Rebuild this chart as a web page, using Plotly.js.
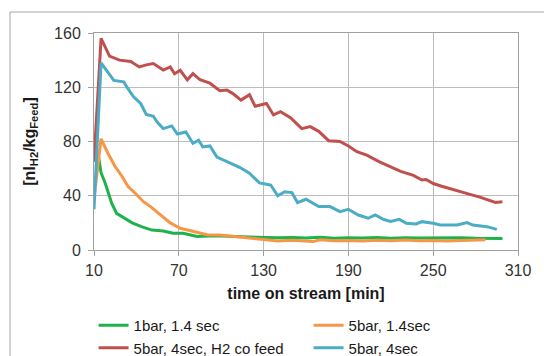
<!DOCTYPE html>
<html>
<head>
<meta charset="utf-8">
<script src="https://cdn.plot.ly/plotly-3.0.1.min.js"></script>
<style>
  html, body { margin: 0; padding: 0; background: #fff; }
  #chart { width: 544px; height: 356px; }
</style>
</head>
<body>
<div id="chart"></div>
<script>
// ---- data ----
const seriesNames = ["1bar, 1.4 sec", "5bar, 1.4sec", "5bar, 4sec, H2 co feed", "5bar, 4sec"];

const tGreen = [13, 15, 18, 20, 22.5, 26, 32, 37, 44, 51, 59, 66, 73, 83, 95, 110, 125, 140, 150, 160, 170, 180, 190, 200, 210, 220, 230, 240, 250, 260, 270, 280, 290, 299];
const vGreen = [70, 57, 49, 42, 34.5, 27, 23.5, 20, 17, 14.7, 14, 12.3, 12.3, 10, 10.5, 9.8, 9.4, 9, 9.2, 8.8, 9.4, 8.6, 9, 8.8, 9.2, 8.7, 9.1, 8.8, 9, 8.7, 9, 8.6, 8.8, 8.5];

const tOrange = [10, 15, 20, 25, 30, 34, 39, 45, 50, 57, 64, 71, 80, 90, 99, 111, 120, 130, 140, 150, 160, 165, 170, 180, 190, 200, 210, 220, 230, 240, 250, 260, 270, 280, 287];
const vOrange = [38, 82, 71, 61.5, 54, 47, 42, 35.6, 32, 26, 20, 16, 13.5, 11.2, 11, 9.8, 8.6, 7.4, 6.6, 7.2, 6.8, 6.2, 7.5, 6.8, 7, 6.6, 7.2, 6.8, 7.4, 6.8, 7, 6.6, 7, 7.2, 7.5];

const tRed = [10, 15, 21, 28, 36, 42, 47, 52, 59, 64, 67, 71, 76, 80, 85, 92, 99, 104, 108, 114, 120, 124, 132, 137, 142, 149, 157, 163, 169, 176, 184, 190, 196, 203, 212, 220, 227, 236, 242, 245, 250, 256, 267, 276, 283, 294, 299];
const vRed = [65, 156, 143, 140, 139, 135, 136.5, 137.5, 132.7, 135, 130, 132.5, 125.5, 130, 125.5, 123, 117.5, 118, 115.5, 110.5, 114.5, 106, 108, 99.6, 102, 97.5, 89.5, 91, 87.5, 80.6, 80, 76.7, 72.5, 70, 65, 61, 58, 55, 51.6, 52, 49, 47, 44, 41, 39, 35, 35.5];

const tBlue = [10, 15, 24, 31, 34, 38, 43, 47, 52, 55, 59, 65, 69, 75, 80, 84, 87, 92, 97, 104, 113, 120, 127, 132, 135, 140, 145, 150, 154, 160, 169, 177, 184, 190, 197, 204, 209, 215, 220, 226, 231, 238, 242, 250, 255, 267, 274, 278, 288, 295];
const vBlue = [30, 138, 125, 124, 119, 113, 108, 100, 98.5, 94, 89.5, 91.5, 85.5, 87, 78.7, 81, 76, 76.7, 68.5, 65, 61, 56.6, 49.5, 48.5, 47.9, 40, 43, 42.3, 35, 37.4, 32, 32, 28.3, 30, 25.8, 23.4, 25.8, 22.5, 21, 22.6, 19.7, 19.2, 20.9, 19.7, 18.4, 18.4, 20.2, 18.4, 17.2, 15.2];

const xTicks = [10, 70, 130, 190, 250, 310];
const yTicks = [0, 40, 80, 120, 160];

const colors = ["#1db34a", "#f79646", "#c0504d", "#4bacc6"];

const tData = [tGreen, tOrange, tRed, tBlue];
const vData = [vGreen, vOrange, vRed, vBlue];

const traces = seriesNames.map((name, i) => ({
  type: "scatter",
  mode: "lines",
  name: name,
  x: tData[i],
  y: vData[i],
  line: { color: colors[i], width: 3 },
  hoverinfo: "skip"
}));

const fam = "Liberation Sans, Arial, sans-serif";
const tickFont = { family: fam, size: 16, color: "#333" };
const titleFont = { family: fam, size: 16, color: "#1a1a1a" };

const layout = {
  width: 544,
  height: 356,
  margin: { l: 94, r: 26, t: 33, b: 106, autoexpand: false },
  paper_bgcolor: "#fff",
  plot_bgcolor: "#fff",
  font: tickFont,
  showlegend: true,
  xaxis: {
    range: [10, 310],
    tickmode: "array",
    tickvals: xTicks,
    ticktext: xTicks.map(String),
    showgrid: true,
    gridcolor: "#bcbcbc",
    gridwidth: 1,
    showline: true,
    linecolor: "#a0a0a0",
    linewidth: 1,
    mirror: true,
    ticks: "outside",
    ticklen: 5,
    tickcolor: "#a0a0a0",
    ticklabelstandoff: 1,
    zeroline: false,
    tickfont: tickFont,
    automargin: false,
    title: { text: "<b>time on stream [min]</b>", font: titleFont, standoff: 9 }
  },
  yaxis: {
    range: [0, 160],
    tickmode: "array",
    tickvals: yTicks,
    ticktext: yTicks.map(String),
    showgrid: true,
    gridcolor: "#bcbcbc",
    gridwidth: 1,
    showline: true,
    linecolor: "#a0a0a0",
    linewidth: 1,
    mirror: true,
    ticks: "outside",
    ticklen: 5,
    tickcolor: "#a0a0a0",
    ticklabelstandoff: 4,
    zeroline: false,
    tickfont: tickFont,
    automargin: false,
    title: { text: "<b>[nl<sub>H2</sub>/kg<sub>Feed</sub>]</b>", font: titleFont, standoff: 14 }
  },
  legend: {
    orientation: "h",
    x: -0.001,
    xanchor: "left",
    y: -0.272,
    yanchor: "top",
    entrywidth: 170,
    entrywidthmode: "pixels",
    font: { family: fam, size: 15, color: "#1a1a1a" },
    bgcolor: "rgba(0,0,0,0)",
    tracegroupgap: 0,
    itemwidth: 30
  },
  shapes: [{
    type: "rect",
    xref: "paper", yref: "paper",
    x0: (10 - 94) / 424, x1: 2,
    y0: -2, y1: (250 - 12) / 217,
    line: { color: "#a6a6a6", width: 1 },
    fillcolor: "rgba(0,0,0,0)",
    layer: "below"
  }]
};

Plotly.newPlot("chart", traces, layout, { staticPlot: true, displayModeBar: false });
</script>
</body>
</html>
